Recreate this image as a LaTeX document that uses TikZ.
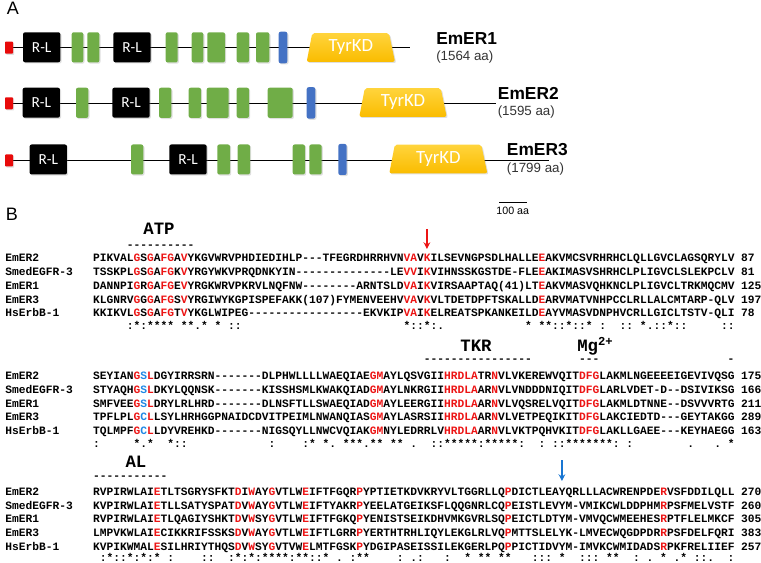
\documentclass[tikz,border=0pt]{standalone}
\usepackage{fontspec}
\setmainfont{Liberation Sans}
\setmonofont{Liberation Mono}
\newfontfamily\calfont{Carlito}
\usetikzlibrary{arrows.meta,shadows}
\definecolor{sigR}{RGB}{232,10,10}
\definecolor{domG}{RGB}{112,173,71}
\definecolor{tmB}{RGB}{68,114,196}
\definecolor{kdY}{RGB}{250,188,0}
\definecolor{kdL}{RGB}{255,212,60}
\definecolor{aaR}{RGB}{236,20,20}
\definecolor{aaB}{RGB}{30,136,229}
\definecolor{arB}{RGB}{25,118,210}
\newcommand{\rd}[1]{\textcolor{aaR}{#1}}
\newcommand{\bl}[1]{\textcolor{aaB}{#1}}

\begin{document}
\begin{tikzpicture}[x=0.75pt,y=-0.75pt,>={Stealth[length=5pt,width=5pt]},
  bb/.style={line width=1pt},
  dom/.style={rounded corners=1.5pt,drop shadow={shadow xshift=0.9pt,shadow yshift=-0.9pt,opacity=0.25}},
  sig/.style={dom,fill=sigR,minimum width=6pt,minimum height=9pt,inner sep=0pt,rounded corners=0.6pt},
  rl/.style={dom,fill=black,text=white,minimum width=28pt,minimum height=22.5pt,inner sep=0pt,font=\calfont\fontsize{11.5}{12}\selectfont},
  kdtext/.style={text=white,inner sep=0pt,font=\calfont\fontsize{14}{15}\selectfont},
  prot/.style={anchor=west,inner sep=0pt,font=\bfseries\fontsize{13}{15}\selectfont},
  plen/.style={anchor=west,inner sep=0pt,text=black!80,font=\fontsize{10}{12}\selectfont},
  panel/.style={inner sep=0pt,font=\fontsize{13.5}{15}\selectfont},
  seq/.style={anchor=base west,inner sep=0pt,font=\ttfamily\bfseries\fontsize{8.44}{10}\selectfont},
  motif/.style={inner sep=0pt,font=\ttfamily\bfseries\fontsize{13}{15}\selectfont}]
\useasboundingbox (0,0) rectangle (761,563);

% ---- A: domain architecture
\node[panel] (pA) at (13,8) {A};
\coordinate (b1s) at (9,47.7);  \coordinate (b1e) at (410,47.7);
\coordinate (b2s) at (9,103.3); \coordinate (b2e) at (496,103.3);
\coordinate (b3s) at (9,160.5); \coordinate (b3e) at (549,160.5);
\draw[bb] (b1s) -- (b1e);
\draw[bb] (b2s) -- (b2e);
\draw[bb] (b3s) -- (b3e);

\node[sig] (sp1) at (b1s) {};
\node[sig] (sp2) at (b2s) {};
\node[sig] (sp3) at (b3s) {};

\node[rl] (rl1a) at (41.7,47.3) {R-L};
\node[rl] (rl1b) at (132,47.3) {R-L};
\node[rl] (rl2a) at (41.3,102.7) {R-L};
\node[rl] (rl2b) at (131,102.7) {R-L};
\node[rl] (rl3a) at (48.3,159.5) {R-L};
\node[rl] (rl3b) at (188,159.5) {R-L};

\foreach \a/\b in {71.7/83.3,87.3/99.3,165.7/177.7,191.7/203.3,207.3/225,236.7/249,256/269.3}
  \fill[dom,fill=domG] (\a,32.3) rectangle (\b,62.5);
\foreach \a/\b in {76/88.3,159/171.3,188.7/201,206.7/228.7,236.7/249,267.7/292.7}
  \fill[dom,fill=domG] (\a,87.7) rectangle (\b,117.9);
\foreach \a/\b in {131/143.3,217.3/230,237.7/250,292.7/305,309.3/321.7}
  \fill[dom,fill=domG] (\a,144.5) rectangle (\b,174.5);

\fill[dom,fill=tmB] (278.7,31.7) rectangle (287.3,63.3);
\fill[dom,fill=tmB] (306.7,87.2) rectangle (315.3,118.6);
\fill[dom,fill=tmB] (338.3,144) rectangle (346.7,175);

\foreach \a/\b/\y/\n in {306.7/395/47.5/1,359.3/446.7/102.5/2,389.3/487.3/159/3}{
  \shade[dom,top color=kdL,bottom color=kdY] (\a,{\y+14.3}) -- ({\a+5.5},{\y-14.3}) -- ({\b-6},{\y-14.3}) -- (\b,{\y+14.3}) -- cycle;
  \node[kdtext] (kd\n) at ({(\a+\b)/2},\y) {TyrKD};
}

\node[prot] (pn1) at (436,38.3) {EmER1};
\node[plen] (pl1) at (436,57.3) {(1564 aa)};
\node[prot] (pn2) at (497.7,93.3) {EmER2};
\node[plen] (pl2) at (497.5,112.3) {(1595 aa)};
\node[prot] (pn3) at (506.7,150) {EmER3};
\node[plen] (pl3) at (506.7,169) {(1799 aa)};

\coordinate (sb1) at (499,202.3); \coordinate (sb2) at (526.7,202.3);
\draw[line width=1.1pt] (sb1) -- (sb2);
\node[inner sep=0pt,font=\fontsize{8}{9}\selectfont] (sbl) at (512.8,210.5) {100 aa};

% ---- B: kinase domain alignment
\node[panel] (pB) at (12,214) {B};

\node[motif] (atp) at (159,228.3) {ATP};
\node[seq] (atpd) at (126.5,248.9) {----------};
\coordinate (ar1) at (426.9,229); \coordinate (ar1e) at (426.9,249);
\draw[->,aaR,line width=1pt] (ar1) -- (ar1e);

\node[seq] (n1a) at (5,261.7) {EmER2};
\node[seq] (n1b) at (5,275.5) {SmedEGFR-3};
\node[seq] (n1c) at (5,289.3) {EmER1};
\node[seq] (n1d) at (5,303.1) {EmER3};
\node[seq] (n1e) at (5,316.9) {HsErbB-1};
\node[seq] (s1a) at (92.75,261.7) {PIKVAL\rd{G}S\rd{G}A\rd{FG}A\rd{V}YKGVWRVPHDIEDIHLP---TFEGRDHRRHVN\rd{VA}V\rd{K}ILSEVNGPSDLHALLE\rd{E}AKVMCSVRHRHCLQLLGVCLAGSQRYLV};
\node[seq] (s1b) at (92.75,275.5) {TSSKPL\rd{G}S\rd{G}A\rd{FG}K\rd{V}YRGYWKVPRQDNKYIN--------------LE\rd{VV}I\rd{K}VIHNSSKGSTDE-FLE\rd{E}AKIMASVSHRHCLPLIGVCLSLEKPCLV};
\node[seq] (s1c) at (92.75,289.3) {DANNPI\rd{G}R\rd{G}A\rd{FG}E\rd{V}YRGKWRVPKRVLNQFNW--------ARNTSLD\rd{VA}I\rd{K}VIRSAAPTAQ(41)LT\rd{E}AKVMASVQHKNCLPLIGVCLTRKMQCMV};
\node[seq] (s1d) at (92.75,303.1) {KLGNRV\rd{G}G\rd{G}A\rd{FG}S\rd{V}YRGIWYKGPISPEFAKK(107)FYMENVEEHV\rd{VA}V\rd{K}VLTDETDPFTSKALLD\rd{E}ARVMATVNHPCCLRLLALCMTARP-QLV};
\node[seq] (s1e) at (92.75,316.9) {KKIKVL\rd{G}S\rd{G}A\rd{FG}T\rd{V}YKGLWIPEG-----------------EKVKIP\rd{VA}I\rd{K}ELREATSPKANKEILD\rd{E}AYVMASVDNPHVCRLLGICLTSTV-QLI};
\node[seq] (c1a) at (740.75,261.7) {87};
\node[seq] (c1b) at (740.75,275.5) {81};
\node[seq] (c1c) at (740.75,289.3) {125};
\node[seq] (c1d) at (740.75,303.1) {197};
\node[seq] (c1e) at (740.75,316.9) {78};
\node[seq] (k1) at (92.75,329.9) {~~~~~:*:****~**.*~*~::~~~~~~~~~~~~~~~~~~~~~~~~*::*:.~~~~~~~~~~~~*~**::*::*~:~~::~*.::*::~~~~~::};

\node[motif] (tkr) at (476,345.7) {TKR};
\node[motif,anchor=base west] (mg) at (577,351.4) {Mg\textsuperscript{2+}};
\node[seq] (tkrd) at (423.5,362.5) {----------------};
\node[seq] (mgd) at (578.75,362.5) {---};
\node[seq] (endd) at (727.25,362.5) {-};

\node[seq] (n2a) at (5,379.4) {EmER2};
\node[seq] (n2b) at (5,393.2) {SmedEGFR-3};
\node[seq] (n2c) at (5,407) {EmER1};
\node[seq] (n2d) at (5,420.8) {EmER3};
\node[seq] (n2e) at (5,434.6) {HsErbB-1};
\node[seq] (s2a) at (92.75,379.4) {SEYIAN\rd{G}\bl{S}\rd{L}DGYIRRSRN-------DLPHWLLLLWAEQIAE\rd{GM}AYLQSVGII\rd{HRDLA}TR\rd{N}VLVKEREWVQIT\rd{DFG}LAKMLNGEEEEIGEVIVQSG};
\node[seq] (s2b) at (92.75,393.2) {STYAQH\rd{G}\bl{S}\rd{L}DKYLQQNSK-------KISSHSMLKWAKQIAD\rd{GM}AYLNKRGII\rd{HRDLA}AR\rd{N}VLVNDDDNIQIT\rd{DFG}LARLVDET-D--DSIVIKSG};
\node[seq] (s2c) at (92.75,407) {SMFVEE\rd{G}\bl{S}\rd{L}DRYLRLHRD-------DLNSFTLLSWAEQIAD\rd{GM}AYLEERGII\rd{HRDLA}AR\rd{N}VLVQSRELVQIT\rd{DFG}LAKMLDTNNE--DSVVVRTG};
\node[seq] (s2d) at (92.75,420.8) {TPFLPL\rd{G}\bl{C}\rd{L}LSYLHRHGGPNAIDCDVITPEIMLNWANQIAS\rd{GM}AYLASRSII\rd{HRDLA}AR\rd{N}VLVETPEQIKIT\rd{DFG}LAKCIEDTD---GEYTAKGG};
\node[seq] (s2e) at (92.75,434.6) {TQLMPF\rd{G}\bl{C}\rd{L}LDYVREHKD-------NIGSQYLLNWCVQIAK\rd{GM}NYLEDRRLV\rd{HRDLA}AR\rd{N}VLVKTPQHVKIT\rd{DFG}LAKLLGAEE---KEYHAEGG};
\node[seq] (c2a) at (740.75,379.4) {175};
\node[seq] (c2b) at (740.75,393.2) {166};
\node[seq] (c2c) at (740.75,407) {211};
\node[seq] (c2d) at (740.75,420.8) {289};
\node[seq] (c2e) at (740.75,434.6) {163};
\node[seq] (k2) at (92.75,447.5) {:~~~~~*.*~~*::~~~~~~~~~~~~:~~~~:*~*.~***.**~**~.~~::*****:*****:~~:~::*******:~:~~~~~~~~.~~~.~*};

\node[motif] (al) at (136,461.7) {AL};
\node[seq] (ald) at (92.75,479.9) {-----------};
\coordinate (ar2) at (561.9,460); \coordinate (ar2e) at (561.9,481);
\draw[->,arB,line width=1pt] (ar2) -- (ar2e);

\node[seq] (n3a) at (5,495.4) {EmER2};
\node[seq] (n3b) at (5,509.1) {SmedEGFR-3};
\node[seq] (n3c) at (5,522.8) {EmER1};
\node[seq] (n3d) at (5,536.5) {EmER3};
\node[seq] (n3e) at (5,550.2) {HsErbB-1};
\node[seq] (s3a) at (92.75,495.4) {RVPIRWLAI\rd{E}TLTSGRYSFKT\rd{D}I\rd{W}AY\rd{G}VTLW\rd{E}IFTFGQR\rd{P}YPTIETKDVKRYVLTGGRLLQ\rd{P}DICTLEAYQRLLLACWRENPDE\rd{R}VSFDDILQLL};
\node[seq] (s3b) at (92.75,509.1) {KVPIRWLAI\rd{E}TLLSATYSPAT\rd{D}V\rd{W}AY\rd{G}VTLW\rd{E}IFTYAKR\rd{P}YEELATGEIKSFLQQGNRLCQ\rd{P}EISTLEVYM-VMIKCWLDDPHM\rd{R}PSFMELVSTF};
\node[seq] (s3c) at (92.75,522.8) {RVPIRWLAI\rd{E}TLQAGIYSHKT\rd{D}V\rd{W}SY\rd{G}VTLW\rd{E}IFTFGKQ\rd{P}YENISTSEIKDHVMKGVRLSQ\rd{P}EICTLDTYM-VMVQCWMEEHES\rd{R}PTFLELMKCF};
\node[seq] (s3d) at (92.75,536.5) {LMPVKWLAI\rd{E}CIKKRIFSSKS\rd{D}V\rd{W}AY\rd{G}VTLW\rd{E}IFTLGRR\rd{P}YERTHTRHLIQYLEKGLRLVQ\rd{P}MTTSLELYK-LMVECWQGDPDR\rd{R}PSFDELFQRI};
\node[seq] (s3e) at (92.75,550.2) {KVPIKWMAL\rd{E}SILHRIYTHQS\rd{D}V\rd{W}SY\rd{G}VTVW\rd{E}LMTFGSK\rd{P}YDGIPASEISSILEKGERLPQ\rd{P}PICTIDVYM-IMVKCWMIDADS\rd{R}PKFRELIIEF};
\node[seq] (c3a) at (740.75,495.4) {270};
\node[seq] (c3b) at (740.75,509.1) {260};
\node[seq] (c3c) at (740.75,522.8) {305};
\node[seq] (c3d) at (740.75,536.5) {383};
\node[seq] (c3e) at (740.75,550.2) {257};
\node[seq] (k3) at (92.75,561.4) {~:*::*:*:*~:~~~~::~~:*:*:****:**::*~.~:**~~~~:~.:~~~:~~*~**~**~~~:::~*~~:::~**~~:~.~*~.*~::.~~:};
\end{tikzpicture}
\end{document}
